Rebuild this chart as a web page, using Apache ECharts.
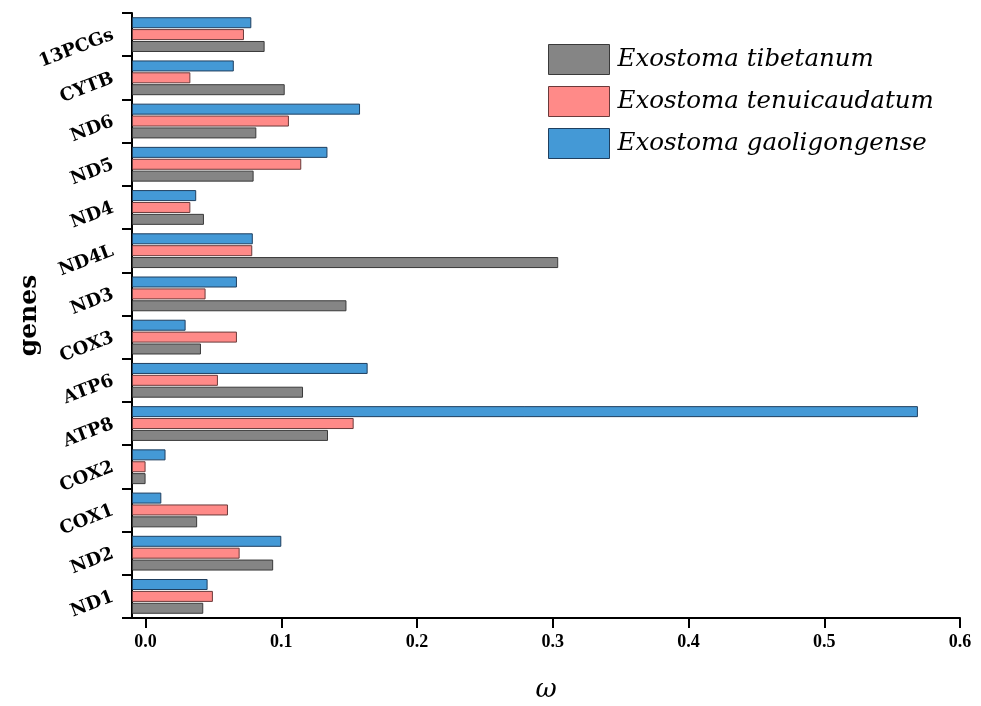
<!DOCTYPE html>
<html>
<head>
<meta charset="utf-8">
<script src="https://cdn.jsdelivr.net/npm/echarts@6/dist/echarts.min.js"></script>
<style>html,body{margin:0;padding:0;background:#fff}#c{width:981px;height:706px}</style>
</head>
<body>
<div id="c"></div>
<script>
var categories = ['ND1','ND2','COX1','COX2','ATP8','ATP6','COX3','ND3','ND4L','ND4','ND5','ND6','CYTB','13PCGs'];
var seriesNames = ['Exostoma tibetanum','Exostoma tenuicaudatum','Exostoma gaoligongense'];
var tibetanum      = [0.0425, 0.094, 0.038, 0.0, 0.1344, 0.116, 0.0408, 0.148, 0.304, 0.043, 0.0796, 0.0816, 0.1025, 0.0877];
var tenuicaudatum  = [0.0496, 0.0693, 0.0607, 0.0, 0.1533, 0.0533, 0.0673, 0.0442, 0.0786, 0.033, 0.1147, 0.1056, 0.033, 0.0725];
var gaoligongense  = [0.0457, 0.100, 0.0116, 0.0147, 0.569, 0.1636, 0.0295, 0.0673, 0.079, 0.0373, 0.134, 0.158, 0.065, 0.0779];
var xTicks = [0, 0.1, 0.2, 0.3, 0.4, 0.5, 0.6];

var fills = ['#858585', '#FF8A88', '#4499D6'];
var borders = ['#3a3a3a', '#6a3a3a', '#1f3f5f'];
var dataSets = [tibetanum, tenuicaudatum, gaoligongense];

var chart = echarts.init(document.getElementById('c'), null, {renderer: 'canvas'});
var series = [];
// draw order: blue first (top bar), then pink, then gray (bottom bar)
for (var i = dataSets.length - 1; i >= 0; i--) {
  series.push({
    name: seriesNames[i],
    type: 'bar',
    data: dataSets[i],
    barWidth: 11,
    barGap: '8%',
    itemStyle: {color: fills[i], borderColor: borders[i], borderWidth: 1}
  });
}
chart.setOption({
  animation: false,
  backgroundColor: '#ffffff',
  grid: {left: 132, right: 21, top: 13, bottom: 88, containLabel: false, outerBoundsMode: 'none'},
  legend: {
    orient: 'vertical',
    left: 543, top: 39,
    itemWidth: 61, itemHeight: 30, itemGap: 11,
    icon: 'rect',
    data: seriesNames,
    itemStyle: {borderWidth: 1},
    textStyle: {fontFamily: 'DejaVu Serif', fontStyle: 'italic', fontSize: 24.5, color: '#000', padding: [0, 0, 0, 3]}
  },
  xAxis: {
    type: 'value',
    min: -0.01, max: 0.6,
    startValue: -0.01,
    splitLine: {show: false},
    axisLine: {show: true, onZero: false, lineStyle: {color: '#000', width: 2}},
    axisTick: {show: true, length: 10, lineStyle: {color: '#000', width: 2}, customValues: xTicks},
    axisLabel: {
      customValues: xTicks,
      margin: 15,
      fontFamily: 'Liberation Serif', fontWeight: 'bold', fontSize: 18, color: '#000',
      formatter: function (v) { return v.toFixed(1); }
    },
    name: 'ω',
    nameLocation: 'middle',
    nameGap: 59,
    nameMoveOverlap: false,
    nameTextStyle: {fontFamily: 'DejaVu Serif', fontStyle: 'italic', fontSize: 26, color: '#000'}
  },
  yAxis: {
    type: 'category',
    data: categories,
    axisLine: {show: true, onZero: false, lineStyle: {color: '#000', width: 2}},
    axisTick: {show: true, length: 10, lineStyle: {color: '#000', width: 2}},
    axisLabel: {
      rotate: 21,
      margin: 19,
      padding: [0, 0, 6, 0],
      fontFamily: 'DejaVu Serif', fontWeight: 'bold', fontSize: 18, color: '#000'
    },
    name: 'genes',
    nameLocation: 'middle',
    nameGap: 90,
    nameRotate: 90,
    nameMoveOverlap: false,
    nameTextStyle: {fontFamily: 'DejaVu Serif', fontWeight: 'bold', fontSize: 25, color: '#000'}
  },
  series: series
});
</script>
</body>
</html>
